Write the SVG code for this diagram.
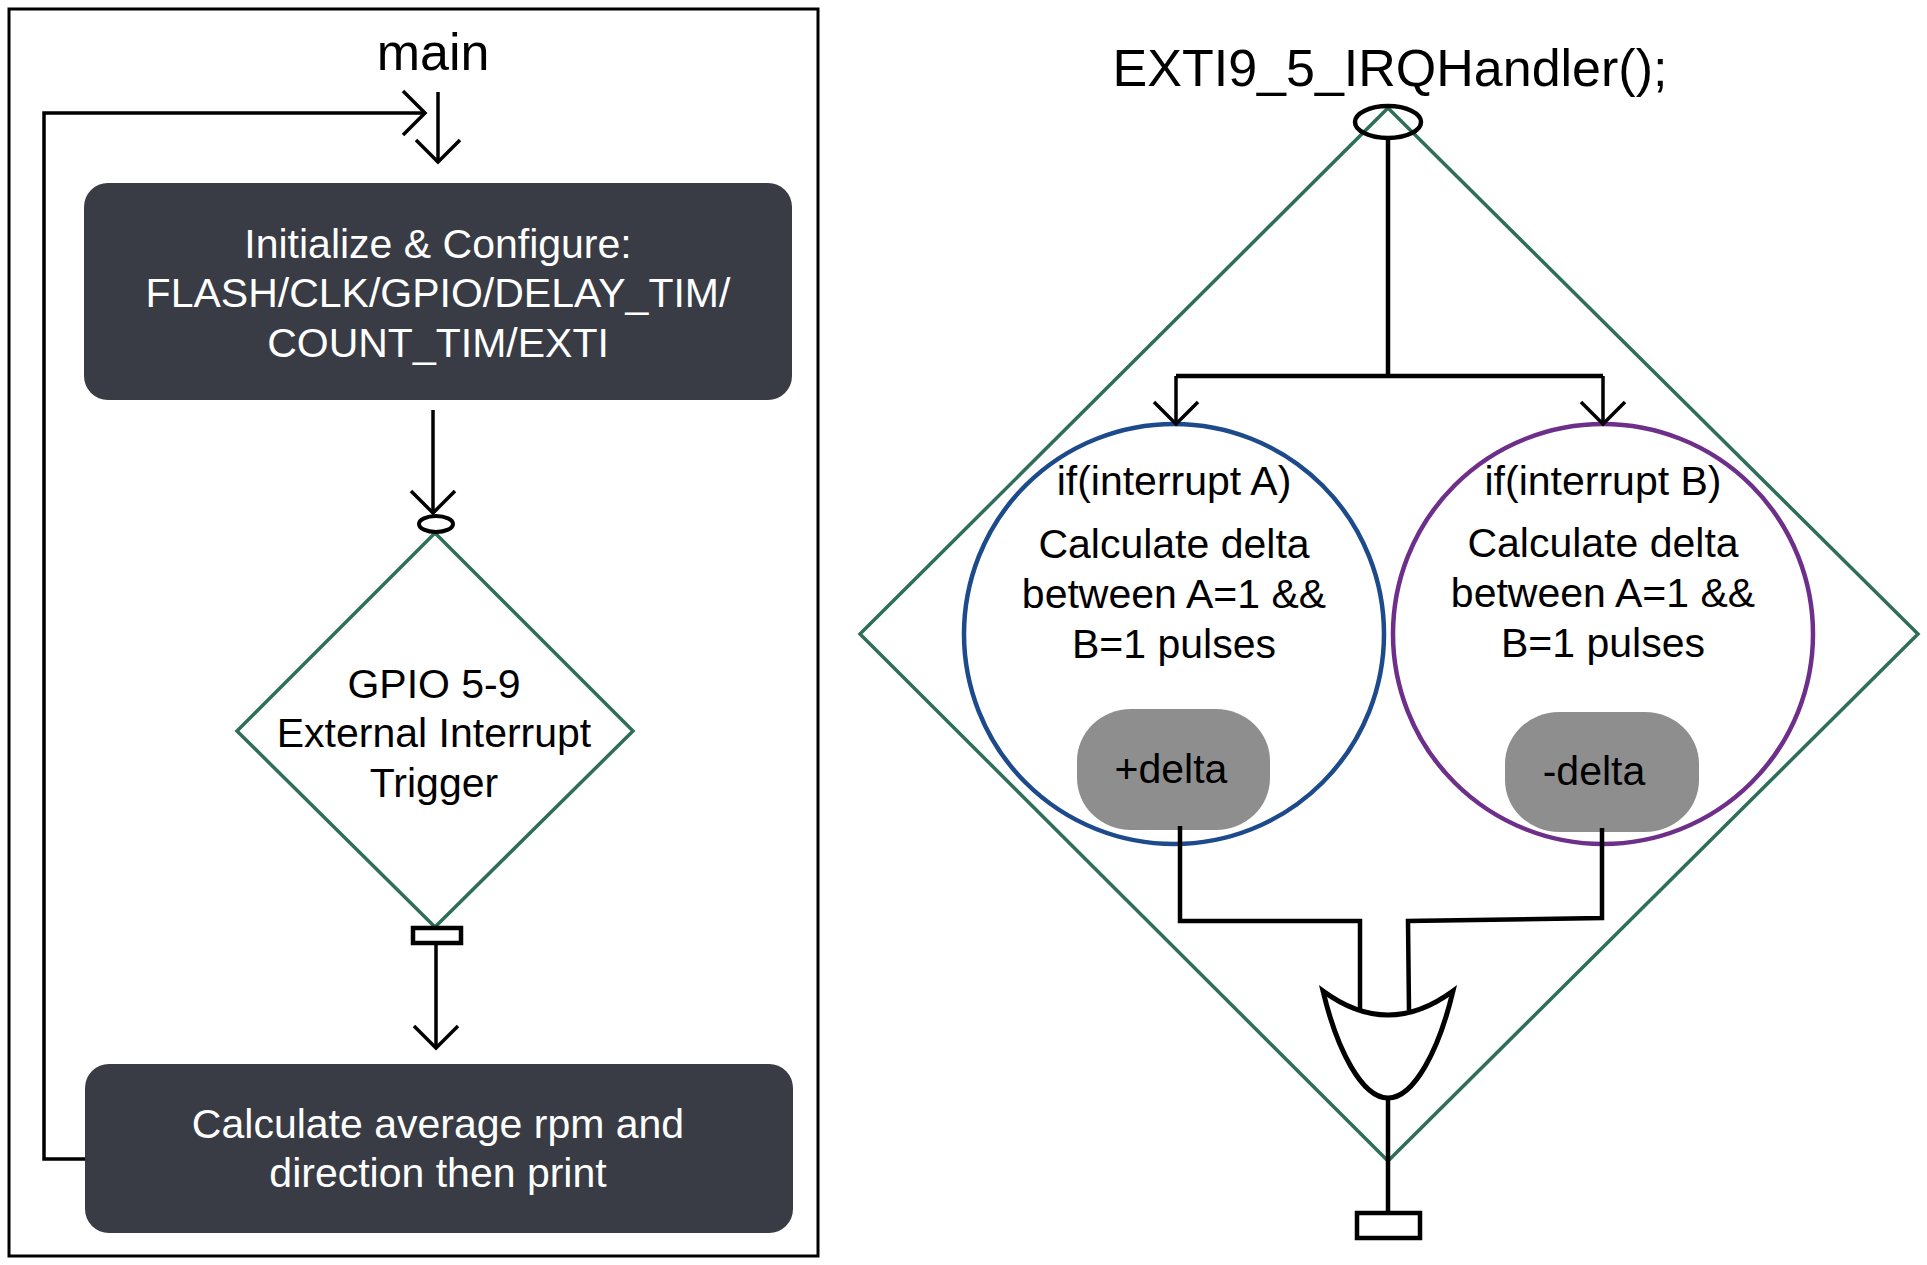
<svg xmlns="http://www.w3.org/2000/svg" width="1927" height="1265" viewBox="0 0 1927 1265">
<defs>
<style>
text{font-family:"Liberation Sans",Arial,Helvetica,sans-serif;text-anchor:middle}
.t{font-size:41px;fill:#000}
.tw{font-size:41px;fill:#fff}
.title{font-size:52px;fill:#000}
.box{fill:#393b45}
.dia{fill:none;stroke:#2f6e5a;stroke-width:3.5}
.ln{fill:none;stroke:#000;stroke-width:3.5}
.wire{fill:none;stroke:#000;stroke-width:4.5;stroke-linejoin:miter}
.term{fill:#fff;stroke:#000;stroke-width:4.5}
.pill{fill:#8e8e8e}
</style>
<marker id="chev" viewBox="0 0 30 50" refX="24" refY="25" markerWidth="30" markerHeight="50" markerUnits="userSpaceOnUse" orient="auto" overflow="visible">
<path d="M2,3 L24,25 L2,47" fill="none" stroke="#000" stroke-width="3.5"/>
</marker>
</defs>
<rect width="1927" height="1265" fill="#fff"/>

<g id="main-frame">
<rect x="9" y="9" width="809" height="1247" fill="none" stroke="#000" stroke-width="3"/>
<text class="title" x="433" y="70">main</text>
</g>

<g id="init-box">
<rect class="box" x="84" y="183" width="708" height="217" rx="24"/>
<text class="tw" x="438" y="258">Initialize &amp; Configure:</text>
<text class="tw" x="438" y="307">FLASH/CLK/GPIO/DELAY_TIM/</text>
<text class="tw" x="438" y="357">COUNT_TIM/EXTI</text>
</g>

<g id="trigger-diamond">
<polygon class="dia" points="435,533 633,731 435,927 237,731"/>
<ellipse cx="436" cy="524" rx="17" ry="8" fill="#fff" stroke="#000" stroke-width="4"/>
<rect class="term" x="413" y="928" width="48" height="15" stroke-width="4"/>
<text class="t" x="434" y="698">GPIO 5-9</text>
<text class="t" x="434" y="747">External Interrupt</text>
<text class="t" x="434" y="797">Trigger</text>
</g>

<g id="calc-box">
<rect class="box" x="85" y="1064" width="708" height="169" rx="24"/>
<text class="tw" x="438" y="1138">Calculate average rpm and</text>
<text class="tw" x="438" y="1187">direction then print</text>
</g>

<g id="handler">
<text class="title" x="1390" y="86">EXTI9_5_IRQHandler();</text>
<polygon class="dia" points="1388,108 1918,634 1388,1161 860,634"/>
<ellipse cx="1388" cy="122" rx="33" ry="16" fill="none" stroke="#000" stroke-width="4.5"/>
</g>

<g id="circle-a">
<circle cx="1174" cy="634" r="210" fill="none" stroke="#1d4a8b" stroke-width="4.5"/>
<text class="t" x="1174" y="495">if(interrupt A)</text>
<text class="t" x="1174" y="558">Calculate delta</text>
<text class="t" x="1174" y="608">between A=1 &amp;&amp;</text>
<text class="t" x="1174" y="658">B=1 pulses</text>
</g>

<g id="circle-b">
<circle cx="1603" cy="634" r="210" fill="none" stroke="#6e2f8a" stroke-width="4.5"/>
<text class="t" x="1603" y="495">if(interrupt B)</text>
<text class="t" x="1603" y="557">Calculate delta</text>
<text class="t" x="1603" y="607">between A=1 &amp;&amp;</text>
<text class="t" x="1603" y="657">B=1 pulses</text>
</g>

<g id="pill-a">
<rect class="pill" x="1077" y="709" width="193" height="121" rx="54" ry="52"/>
<text class="t" x="1171" y="783">+delta</text>
</g>

<g id="pill-b">
<rect class="pill" x="1505" y="712" width="194" height="120" rx="54" ry="52"/>
<text class="t" x="1594" y="785">-delta</text>
</g>

<g id="connectors">
<path class="ln" d="M85,1159 L44,1159 L44,113 L425,113" marker-end="url(#chev)"/>
<path class="ln" d="M438,92 L438,162" marker-end="url(#chev)"/>
<path class="ln" d="M433,410 L433,513" marker-end="url(#chev)"/>
<path class="ln" d="M436,944 L436,1048" marker-end="url(#chev)"/>
<path class="wire" d="M1388,140 L1388,376"/>
<path class="wire" d="M1176,376 L1603,376" stroke-width="6"/>
<path class="ln" d="M1176,376 L1176,424" stroke-width="4" marker-end="url(#chev)"/>
<path class="ln" d="M1603,376 L1603,424" stroke-width="4" marker-end="url(#chev)"/>
<path class="wire" d="M1180,826 L1180,921 L1360,921 L1360,1010"/>
<path class="wire" d="M1602,828 L1602,918 L1408,921 L1409,1010"/>
<path class="wire" d="M1388,1098 L1388,1213"/>
</g>

<g id="or-gate">
<path d="M1323,991 Q1388,1039 1453,991 C1439,1050 1414,1098 1388,1098 C1362,1098 1337,1050 1323,991 Z" fill="none" stroke="#000" stroke-width="5" stroke-linejoin="miter"/>
</g>

<g id="end-terminal">
<rect class="term" x="1357" y="1213" width="63" height="25"/>
</g>
</svg>
